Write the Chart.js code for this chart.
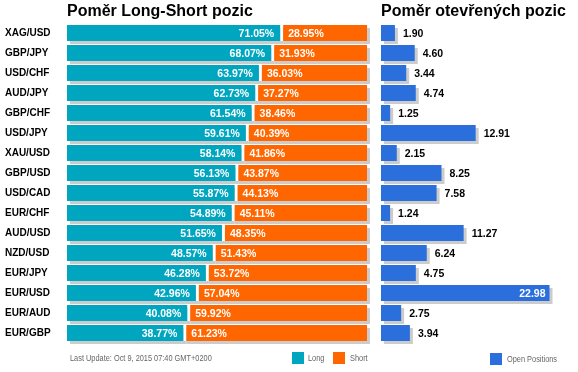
<!DOCTYPE html>
<html lang="cs">
<head>
<meta charset="UTF-8">
<title>Poměr Long-Short pozic</title>
<script src="https://cdn.jsdelivr.net/npm/chart.js"></script>
<style>
    body { margin: 0; background: #fff; font-family: Arial, 'Liberation Sans', sans-serif; }
    #wrap { position: relative; width: 578px; height: 372px; overflow: hidden; }
    canvas { position: absolute; top: 0; }
    #levy { left: 0; }
    #pravy { left: 375px; }
    .titulek { position: absolute; top: 3px; font-size: 16px; font-weight: bold; line-height: 16px; color: #000; white-space: nowrap; }
    .maly { position: absolute; font-size: 9px; line-height: 9px; color: #666; white-space: nowrap; transform: scaleX(0.82); transform-origin: left center; }
    .ctverec { position: absolute; width: 12px; height: 12px; }
</style>
</head>
<body>
<div id="wrap">
    <canvas id="levy" width="375" height="372"></canvas>
    <canvas id="pravy" width="203" height="372"></canvas>
    <div class="titulek" style="left:67px">Poměr Long-Short pozic</div>
    <div class="titulek" style="left:381px">Poměr otevřených pozic</div>
    <div class="maly" style="left:70px; top:354px">Last Update: Oct 9, 2015 07:40 GMT+0200</div>
    <div class="ctverec" style="left:292px; top:352px; background:#00a6bf"></div>
    <div class="maly" style="left:308px; top:354px">Long</div>
    <div class="ctverec" style="left:333px; top:352px; background:#ff6600"></div>
    <div class="maly" style="left:350px; top:354px">Short</div>
    <div class="ctverec" style="left:490px; top:353px; background:#2a6fdb"></div>
    <div class="maly" style="left:507px; top:355px">Open Positions</div>
</div>
<script>
const pary = ['XAG/USD', 'GBP/JPY', 'USD/CHF', 'AUD/JPY', 'GBP/CHF', 'USD/JPY', 'XAU/USD', 'GBP/USD',
              'USD/CAD', 'EUR/CHF', 'AUD/USD', 'NZD/USD', 'EUR/JPY', 'EUR/USD', 'EUR/AUD', 'EUR/GBP'];
const longPct = [71.05, 68.07, 63.97, 62.73, 61.54, 59.61, 58.14, 56.13, 55.87, 54.89, 51.65, 48.57, 46.28, 42.96, 40.08, 38.77];
const shortPct = [28.95, 31.93, 36.03, 37.27, 38.46, 40.39, 41.86, 43.87, 44.13, 45.11, 48.35, 51.43, 53.72, 57.04, 59.92, 61.23];
const otevrene = [1.90, 4.60, 3.44, 4.74, 1.25, 12.91, 2.15, 8.25, 7.58, 1.24, 11.27, 6.24, 4.75, 22.98, 2.75, 3.94];

const pismo = "Arial, 'Liberation Sans', sans-serif";
const TEAL = '#00a6bf';
const ORANZ = '#ff6600';
const MODRA = '#2a6fdb';
const STIN = '#cccccc';

// seda stin pod kazdym sloupcem
const stinPlugin = {
    id: 'stin',
    beforeDatasetsDraw(chart) {
        const ctx = chart.ctx;
        ctx.save();
        ctx.fillStyle = STIN;
        chart.data.datasets.forEach((ds, i) => {
            chart.getDatasetMeta(i).data.forEach(el => {
                const p = el.getProps(['x', 'y', 'base', 'height'], true);
                ctx.fillRect(Math.min(p.base, p.x) + 3, p.y - p.height / 2 + 3, Math.abs(p.x - p.base), p.height);
            });
        });
        ctx.restore();
    }
};

const popiskyLevy = {
    id: 'popiskyLevy',
    afterDatasetsDraw(chart) {
        const ctx = chart.ctx;
        ctx.save();
        ctx.font = 'bold 10.5px ' + pismo;
        ctx.textBaseline = 'middle';
        ctx.fillStyle = '#fff';
        chart.getDatasetMeta(0).data.forEach((el, i) => {
            ctx.textAlign = 'right';
            ctx.fillText(longPct[i].toFixed(2) + '%', el.x - 6, el.y + 1);
        });
        chart.getDatasetMeta(1).data.forEach((el, i) => {
            ctx.textAlign = 'left';
            ctx.fillText(shortPct[i].toFixed(2) + '%', el.base + 8, el.y + 1);
        });
        ctx.restore();
    }
};

const popiskyPravy = {
    id: 'popiskyPravy',
    afterDatasetsDraw(chart) {
        const ctx = chart.ctx;
        ctx.save();
        ctx.font = 'bold 10.5px ' + pismo;
        ctx.textBaseline = 'middle';
        chart.getDatasetMeta(0).data.forEach((el, i) => {
            const txt = otevrene[i].toFixed(2);
            const w = ctx.measureText(txt).width;
            if (el.x + 8 + w > chart.width) {
                ctx.fillStyle = '#fff';
                ctx.textAlign = 'right';
                ctx.fillText(txt, el.x - 4, el.y + 1);
            } else {
                ctx.fillStyle = '#000';
                ctx.textAlign = 'left';
                ctx.fillText(txt, el.x + 8, el.y + 1);
            }
        });
        ctx.restore();
    }
};

new Chart(document.getElementById('levy'), {
    type: 'bar',
    data: {
        labels: pary,
        datasets: [{
            label: 'Long',
            data: longPct,
            backgroundColor: TEAL,
            borderWidth: 0,
            barPercentage: 0.8,
            categoryPercentage: 1
        }, {
            label: 'Short',
            data: shortPct,
            backgroundColor: ORANZ,
            borderColor: '#fff',
            borderWidth: { left: 3, top: 0, right: 0, bottom: 0 },
            borderSkipped: false,
            barPercentage: 0.8,
            categoryPercentage: 1
        }]
    },
    options: {
        indexAxis: 'y',
        responsive: false,
        animation: false,
        layout: { padding: { left: 5, right: 8, top: 23, bottom: 29 } },
        plugins: { legend: { display: false }, tooltip: { enabled: false } },
        scales: {
            x: { stacked: true, min: 0, max: 100, display: false },
            y: {
                stacked: true,
                grid: { display: false },
                border: { display: false },
                afterFit(axis) { axis.width = 62; },
                ticks: {
                    crossAlign: 'far',
                    padding: 0,
                    color: '#000',
                    font: { family: pismo, size: 10, weight: 'bold' }
                }
            }
        }
    },
    plugins: [stinPlugin, popiskyLevy]
});

new Chart(document.getElementById('pravy'), {
    type: 'bar',
    data: {
        labels: pary,
        datasets: [{
            label: 'Open Positions',
            data: otevrene,
            backgroundColor: MODRA,
            borderWidth: 0,
            barPercentage: 0.8,
            categoryPercentage: 1
        }]
    },
    options: {
        indexAxis: 'y',
        responsive: false,
        animation: false,
        layout: { padding: { left: 6, right: 21, top: 23, bottom: 29 } },
        plugins: { legend: { display: false }, tooltip: { enabled: false } },
        scales: {
            x: { min: 0, max: 24, display: false },
            y: { display: false }
        }
    },
    plugins: [stinPlugin, popiskyPravy]
});
</script>
</body>
</html>
